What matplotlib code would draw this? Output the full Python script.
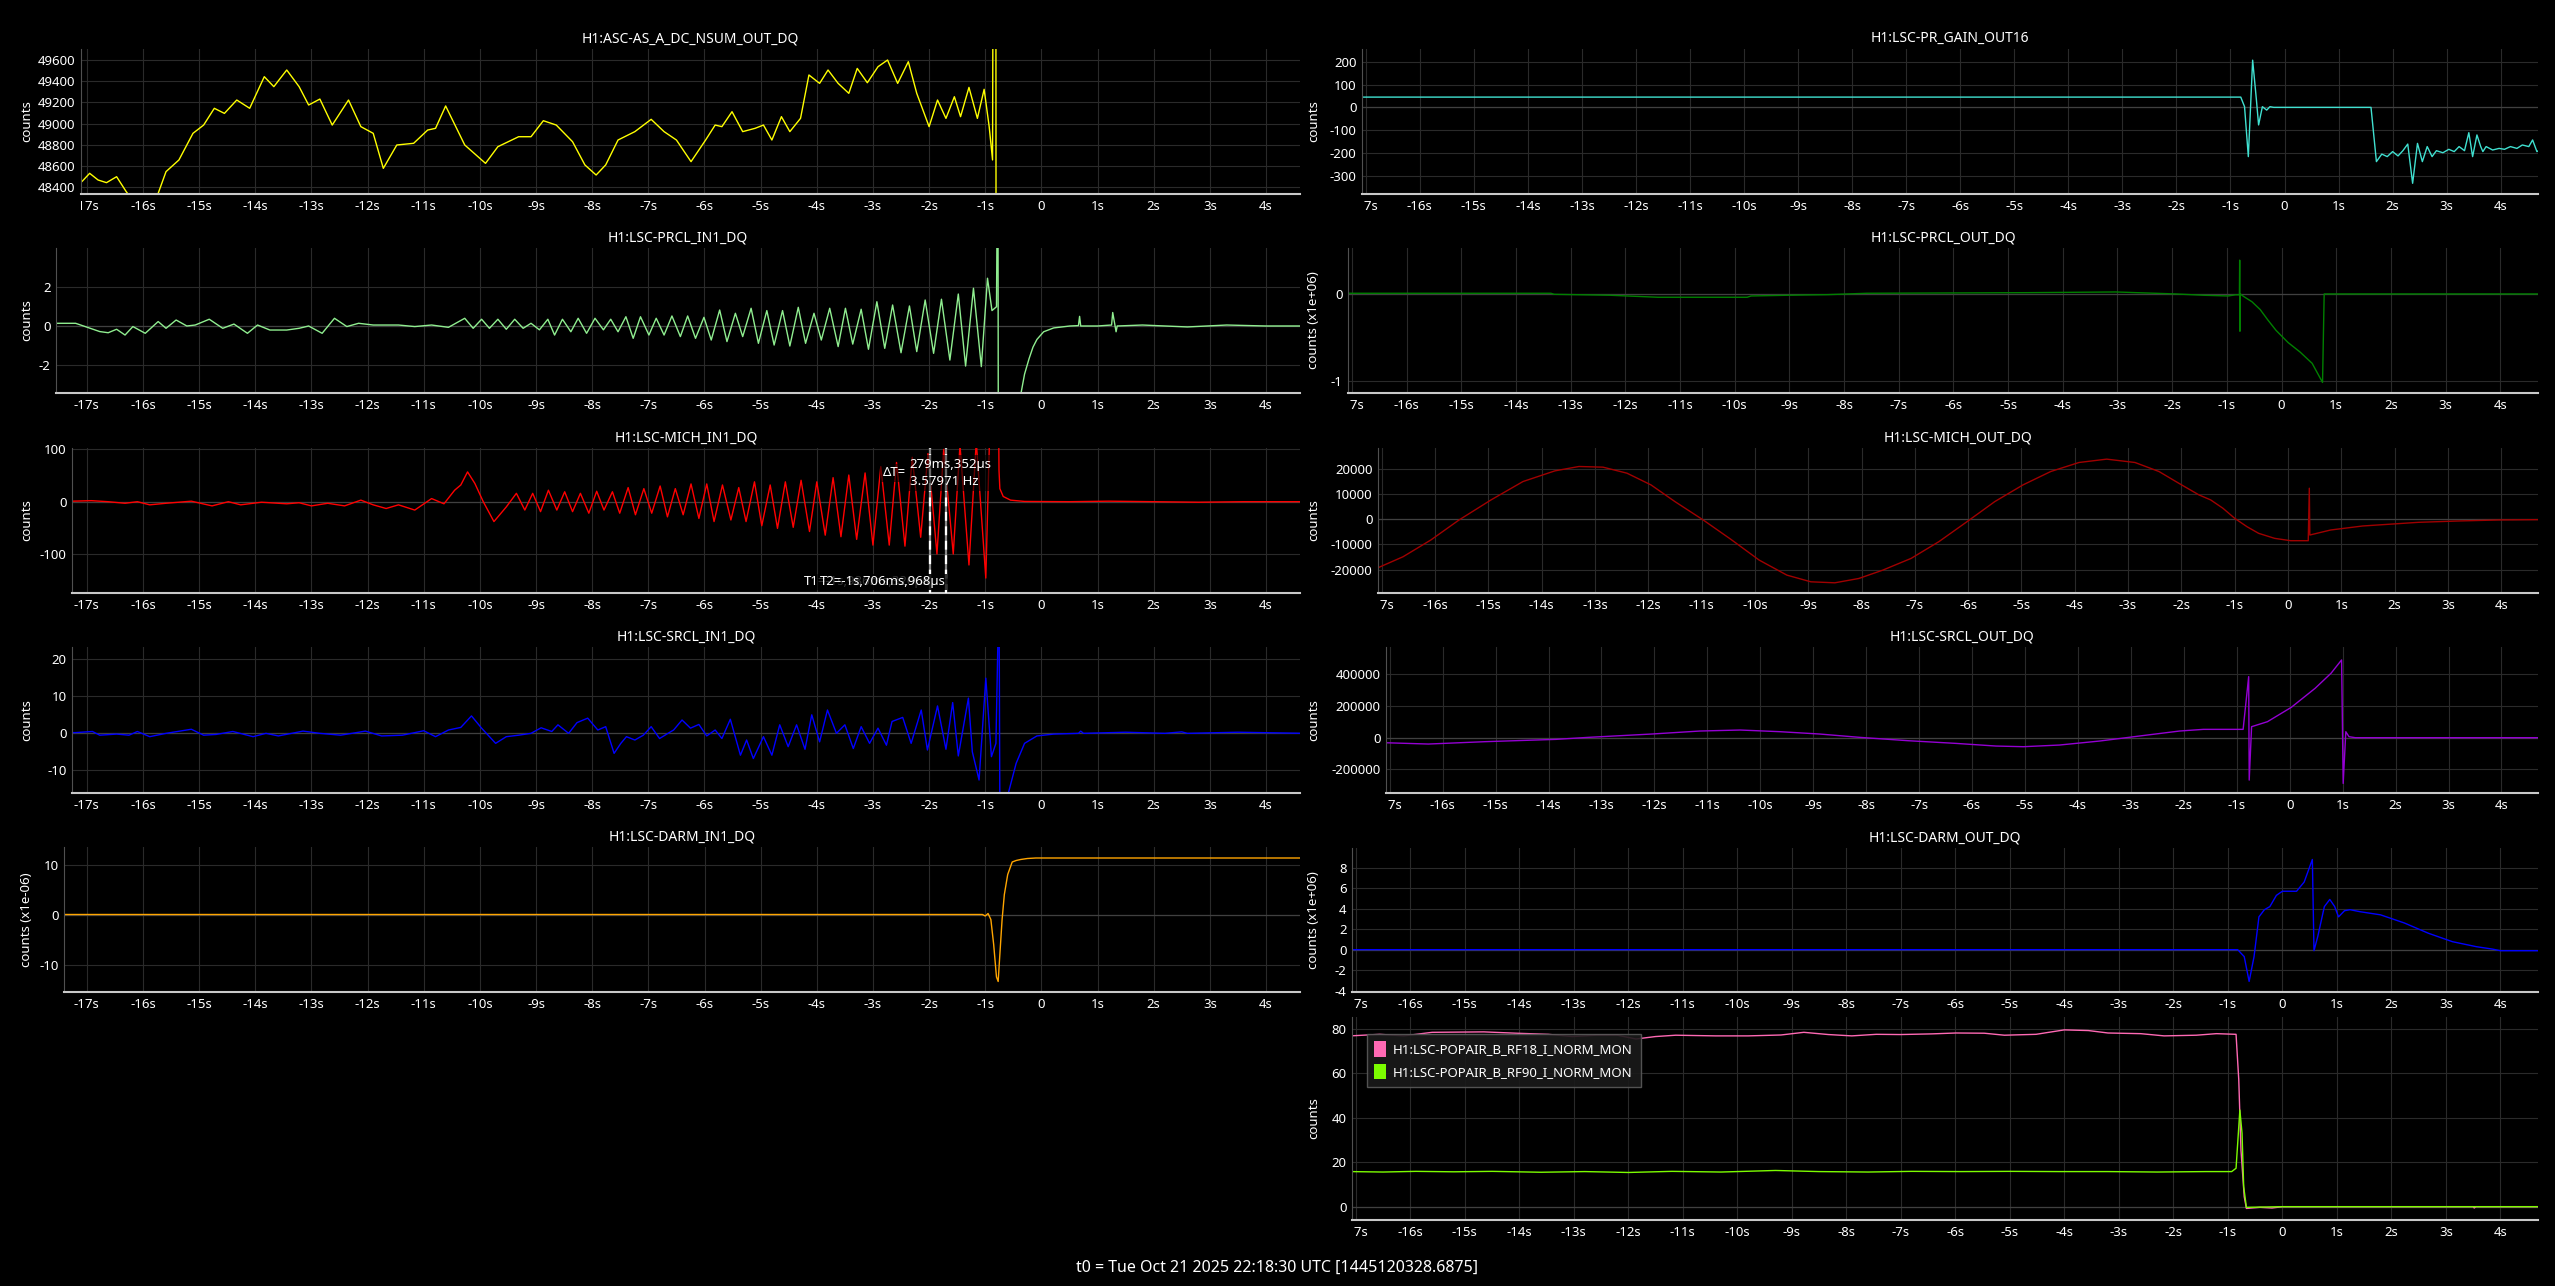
import numpy as np
import matplotlib
matplotlib.use('Agg')
from matplotlib import pyplot as plt
from matplotlib.patches import Patch
from matplotlib.transforms import Bbox, TransformedBbox, blended_transform_factory

plt.rcParams['font.family'] = ['Noto Sans', 'DejaVu Sans']

FIG_W, FIG_H = 2555, 1286
T0_TEXT = 't0 = Tue Oct 21 2025 22:18:30 UTC [1445120328.6875]'

# ---------------- data, seconds relative to t0 ----------------
# H1:ASC-AS_A_DC_NSUM_OUT_DQ
asc_t = [-17.6, -17.09, -16.95, -16.8, -16.65, -16.47, -16.3, -16.0, -15.73, -15.59,
         -15.36, -15.11, -14.92, -14.73, -14.55, -14.33, -14.1, -13.84, -13.67, -13.44,
         -13.22, -13.05, -12.85, -12.63, -12.34, -12.12, -11.9, -11.72, -11.48, -11.18,
         -10.93, -10.79, -10.61, -10.27, -9.9, -9.68, -9.31, -9.09, -8.87, -8.64,
         -8.35, -8.13, -7.93, -7.76, -7.54, -7.24, -6.95, -6.72, -6.5, -6.24,
         -5.98, -5.81, -5.69, -5.51, -5.32, -5.1, -4.95, -4.8, -4.63, -4.48,
         -4.29, -4.14, -3.95, -3.8, -3.62, -3.43, -3.28, -3.1, -2.91, -2.74,
         -2.56, -2.37, -2.22, -2.0, -1.85, -1.7, -1.55, -1.44, -1.29, -1.14,
         -1.02, -0.93, -0.87, -0.82, -0.76, 4.7]
asc_y = [48453, 48453, 48532, 48469, 48444, 48500, 48360, 48150, 48343, 48548,
         48658, 48909, 48987, 49145, 49097, 49223, 49145, 49443, 49349, 49506,
         49349, 49176, 49232, 48987, 49223, 48972, 48909, 48579, 48799, 48815,
         48940, 48956, 49167, 48799, 48626, 48783, 48877, 48877, 49028, 48987,
         48830, 48611, 48516, 48611, 48846, 48925, 49041, 48925, 48846, 48642,
         48846, 48987, 48972, 49113, 48925, 48956, 48987, 48846, 49066, 48925,
         49050, 49459, 49380, 49506, 49380, 49286, 49521, 49386, 49537, 49600,
         49380, 49584, 49286, 48972, 49223, 49050, 49254, 49066, 49342, 49050,
         49324, 48972, 48658, 60000, 0, 0]

# H1:LSC-PRCL_IN1_DQ
prcl_in_pre_t = [-17.6, -17.54, -17.2, -17.06, -16.77, -16.62, -16.47, -16.32, -16.18, -15.96,
                 -15.73, -15.59, -15.41, -15.22, -15.07, -14.82, -14.58, -14.38, -14.14, -13.96,
                 -13.74, -13.44, -13.22, -13.05, -12.81, -12.59, -12.37, -12.16, -11.9, -11.45,
                 -11.16, -10.86, -10.56]
prcl_in_pre_y = [0.1, 0.14, 0.14, 0, -0.29, -0.35, -0.17, -0.47, -0.03, -0.38,
                 0.23, -0.12, 0.31, 0, 0.05, 0.35, -0.12, 0.1, -0.38, 0.05,
                 -0.21, -0.21, -0.12, 0, -0.38, 0.4, -0.03, 0.14, 0.05, 0.05,
                 -0.03, 0.05, -0.07]
prcl_in_peak_t = [-10.27, -9.97, -9.68, -9.38, -9.09, -8.79, -8.53, -8.25, -7.95, -7.67,
                  -7.40, -7.14, -6.86, -6.58, -6.30, -6.01, -5.73, -5.45, -5.17, -4.89,
                  -4.61, -4.33, -4.05, -3.77, -3.49, -3.21, -2.93, -2.65, -2.35, -2.07,
                  -1.78, -1.48, -1.21, -0.96]
prcl_in_peak_y = [0.4, 0.35, 0.35, 0.35, 0.14, 0.35, 0.35, 0.4, 0.4, 0.35,
                  0.48, 0.48, 0.4, 0.52, 0.52, 0.45, 0.83, 0.66, 0.92, 0.8,
                  0.8, 0.97, 0.66, 0.92, 0.92, 0.87, 1.26, 1.09, 1.04, 1.35,
                  1.39, 1.66, 1.96, 2.48]
prcl_in_trough_t = [-10.12, -9.83, -9.53, -9.23, -8.94, -8.67, -8.38, -8.10, -7.80, -7.54,
                    -7.27, -6.99, -6.72, -6.43, -6.16, -5.88, -5.60, -5.32, -5.04, -4.76,
                    -4.48, -4.20, -3.92, -3.62, -3.36, -3.08, -2.79, -2.50, -2.22, -1.92,
                    -1.63, -1.35, -1.07]
prcl_in_trough_y = [-0.12, -0.12, -0.17, -0.12, -0.2, -0.47, -0.3, -0.38, -0.2, -0.3,
                    -0.64, -0.47, -0.47, -0.55, -0.64, -0.73, -0.81, -0.55, -0.9, -0.99,
                    -1.04, -0.9, -0.73, -1.07, -0.94, -1.21, -1.16, -1.39, -1.33, -1.42,
                    -1.77, -2.08, -2.11]
prcl_in_post_t = [-0.88, -0.8, -0.775, -0.765, -0.5, -0.37, -0.3, -0.22, -0.15, -0.08,
                  0.04, 0.22, 0.51, 0.66, 0.68, 0.7, 1.0, 1.25, 1.27, 1.33,
                  1.35, 1.8, 2.6, 3.3, 4.0, 4.7]
prcl_in_post_y = [0.8, 1.0, 12, -12, -6, -3.6, -2.5, -1.7, -1.1, -0.7,
                  -0.3, -0.1, 0.0, 0.02, 0.5, 0.0, 0.0, 0.05, 0.7, -0.3,
                  0.0, 0.05, -0.05, 0.05, 0.0, 0.0]

# H1:LSC-MICH_IN1_DQ
mich_in_pre_t = [-17.6, -17.26, -16.92, -16.62, -16.32, -16.1, -15.88, -15.59, -15.14, -14.77,
                 -14.48, -14.26, -13.89, -13.44, -13.22, -13.0, -12.71, -12.41, -12.12, -11.9,
                 -11.67, -11.45, -11.16, -10.86, -10.64, -10.45, -10.34, -10.22, -10.09, -9.94,
                 -9.75, -9.53]
mich_in_pre_y = [1, 1, 2, 0, -3, 0, -6, -3, 1, -8,
                 0, -6, -1, -4, -2, -8, -3, -8, 3, -6,
                 -13, -6, -16, 6, -4, 22, 32, 57, 35, 0,
                 -38, -10]
mich_in_peak_t = [-9.35, -9.06, -8.78, -8.49, -8.21, -7.92, -7.64, -7.36, -7.08, -6.79,
                  -6.52, -6.24, -5.96, -5.68, -5.39, -5.11, -4.83, -4.56, -4.28, -4.0,
                  -3.71, -3.43, -3.14, -2.86, -2.58, -2.30, -2.02, -1.74, -1.45, -1.16,
                  -0.89]
mich_in_peak_y = [16, 16, 22, 19, 16, 20, 19, 27, 25, 30,
                  25, 34, 34, 32, 27, 38, 32, 38, 41, 38,
                  46, 51, 55, 67, 75, 85, 92, 100, 108, 115,
                  260]
mich_in_trough_t = [-9.2, -8.92, -8.63, -8.35, -8.06, -7.79, -7.51, -7.23, -6.94, -6.66,
                    -6.38, -6.1, -5.83, -5.53, -5.26, -4.98, -4.7, -4.42, -4.13, -3.85,
                    -3.57, -3.29, -3.0, -2.71, -2.43, -2.15, -1.86, -1.57, -1.29, -0.99]
mich_in_trough_y = [-16, -19, -16, -19, -22, -16, -22, -25, -22, -29,
                    -25, -32, -38, -35, -38, -46, -51, -49, -57, -64,
                    -67, -72, -83, -83, -85, -68, -100, -100, -121, -146]
mich_in_post_t = [-0.77, -0.755, -0.74, -0.68, -0.55, -0.3, 0.5, 1.2, 2.0, 2.8, 3.6, 4.7]
mich_in_post_y = [260, 60, 25, 10, 3, 0.5, 0, 1, 0, -1, 0, 0]

# cursors on MICH_IN1
cursor_t1 = -1.986320
cursor_t2 = -1.706968
cursor_t1_text = 'T1=-1s,986ms,320µs'
cursor_t2_text = 'T2=-1s,706ms,968µs'
cursor_dt_text = '279ms,352µs\n3.57971 Hz'

# H1:LSC-SRCL_IN1_DQ
srcl_in_t = [-17.6, -17.2, -16.9, -16.77, -16.47, -16.25, -16.1, -15.88, -15.59, -15.14,
             -14.92, -14.7, -14.4, -14.04, -13.81, -13.59, -13.15, -12.85, -12.48, -12.04,
             -11.75, -11.38, -11.0, -10.79, -10.56, -10.34, -10.15, -9.97, -9.72, -9.53,
             -9.31, -9.09, -8.91, -8.72, -8.61, -8.42, -8.27, -8.08, -7.9, -7.76,
             -7.61, -7.49, -7.39, -7.24, -7.09, -6.95, -6.8, -6.65, -6.55, -6.4,
             -6.25, -6.1, -5.96, -5.81, -5.69, -5.54, -5.36, -5.25, -5.13, -4.95,
             -4.8, -4.66, -4.51, -4.36, -4.21, -4.09, -3.95, -3.81, -3.65, -3.5,
             -3.35, -3.21, -3.06, -2.91, -2.76, -2.66, -2.47, -2.32, -2.14, -2.03,
             -1.85, -1.7, -1.58, -1.48, -1.3, -1.23, -1.11, -0.99, -0.89, -0.81,
             -0.755, -0.735, -0.59, -0.45, -0.3, -0.08, 0.22, 0.66, 0.7, 0.75,
             1.5, 2.2, 2.5, 2.6, 3.5, 4.7]
srcl_in_y = [0.2, 0.2, 0.5, -0.5, -0.2, -0.5, 0.5, -0.9, 0, 1.1,
             -0.5, -0.3, 0.5, -0.9, 0, -0.7, 0.6, 0, -0.5, 0.6,
             -0.7, -0.5, 0.7, -0.9, 0.9, 1.6, 4.7, 1.4, -2.7, -0.9,
             -0.5, 0, 1.5, 0.5, 2.3, 0, 2.9, 4.1, 0.9, 1.8,
             -5.4, -2.7, -0.9, -1.8, -0.5, 1.8, -1.4, 0, 0.9, 3.6,
             1.4, 2.4, -0.7, 0.9, -1.4, 3.8, -5.9, -1.8, -6.8, -0.9,
             -5.9, 2.3, -3.6, 2.3, -4.3, 5.0, -2.3, 6.3, 0, 2.3,
             -4.1, 1.8, -2.7, 1.4, -3.2, 3.2, 4.3, -2.7, 6.3, -4.5,
             7.4, -4.3, 8.3, -6.1, 9.5, -5.0, -12.6, 14.9, -6.3, -2.7,
             40, -40, -16.2, -8.1, -2.7, -0.7, -0.2, 0, 0.6, 0,
             0.3, 0, 0.4, 0, 0.3, 0]

# H1:LSC-DARM_IN1_DQ  (x1e-06)
darm_in_t = [-17.6, -1.05, -1.0, -0.95, -0.9, -0.85, -0.8, -0.77, -0.74, -0.7,
             -0.66, -0.6, -0.52, -0.45, -0.37, -0.25, -0.1, 4.7]
darm_in_y = [0, 0, -0.3, 0.2, -1.0, -6.0, -12.5, -13.4, -8.0, -1.0,
             4.0, 8.0, 10.5, 10.8, 11.0, 11.2, 11.3, 11.3]

# H1:LSC-PR_GAIN_OUT16
pr_gain_t = [-17.1, -0.81, -0.74, -0.67, -0.59, -0.52, -0.48, -0.41, -0.33, -0.27,
             -0.2, 1.6, 1.7, 1.8, 1.9, 2.0, 2.1, 2.19, 2.28, 2.37,
             2.46, 2.55, 2.64, 2.73, 2.81, 2.93, 3.04, 3.14, 3.23, 3.33,
             3.41, 3.48, 3.56, 3.63, 3.67, 3.73, 3.85, 3.97, 4.07, 4.18,
             4.3, 4.4, 4.52, 4.59, 4.67, 4.7]
pr_gain_y = [45, 45, 3, -216, 207, 32, -77, 3, -12, 3,
             0, 0, -238, -205, -216, -194, -213, -190, -161, -333,
             -158, -238, -172, -216, -190, -199, -184, -194, -172, -190,
             -111, -216, -121, -172, -194, -172, -187, -180, -184, -172,
             -180, -165, -172, -143, -194, -190]

# H1:LSC-PRCL_OUT_DQ  (x1e+06)
prcl_out_t = [-17.1, -13.36, -13.3, -12.27, -11.97, -11.4, -9.77, -9.7, -9.04, -8.3,
              -7.58, -4.64, -3.03, -1.93, -1.42, -0.98, -0.84, -0.77, -0.765, -0.76,
              -0.755, -0.69, -0.54, -0.39, -0.25, -0.1, 0.12, 0.34, 0.56, 0.75,
              0.78, 4.7]
prcl_out_y = [0.008, 0.008, -0.004, -0.015, -0.023, -0.038, -0.038, -0.023, -0.015, -0.008,
              0.008, 0.015, 0.023, 0.0, -0.015, -0.023, -0.01, -0.01, 0.39, -0.43,
              0.0, -0.03, -0.09, -0.18, -0.3, -0.42, -0.56, -0.67, -0.8, -1.02,
              0.0, 0.0]

# H1:LSC-MICH_OUT_DQ
mich_out_t = [-17.1, -16.6, -16.08, -15.55, -14.95, -14.35, -13.75, -13.3, -12.85, -12.4,
              -11.95, -11.5, -10.97, -10.45, -9.92, -9.4, -8.95, -8.5, -8.05, -7.6,
              -7.07, -6.55, -6.02, -5.5, -4.97, -4.45, -3.92, -3.4, -2.87, -2.42,
              -2.05, -1.67, -1.45, -1.22, -1.0, -0.77, -0.55, -0.25, 0.05, 0.38,
              0.4, 0.41, 0.8, 1.4, 2.45, 3.2, 3.95, 4.7]
mich_out_y = [-19535, -14884, -8239, -266, 7708, 15017, 19269, 20997, 20731, 18339,
              13688, 7043, -266, -7973, -16213, -22193, -24850, -25249, -23522, -20199,
              -15548, -8904, -930, 7043, 13688, 19003, 22591, 23920, 22591, 19003,
              14352, 9701, 7708, 4385, 399, -2924, -5581, -7575, -8505, -8505,
              12359, -6246, -4252, -2658, -1196, -664, -266, -133]

# H1:LSC-SRCL_OUT_DQ
srcl_out_t = [-17.1, -16.27, -15.21, -13.86, -13.25, -12.05, -11.14, -10.38, -9.63, -8.88,
              -8.12, -7.21, -6.31, -5.55, -5.03, -4.35, -3.59, -2.84, -2.08, -1.63,
              -0.88, -0.775, -0.765, -0.72, -0.42, 0.03, 0.48, 0.78, 0.98, 1.01,
              1.06, 1.12, 1.24, 4.7]
srcl_out_y = [-31579, -40000, -25263, -10526, 2105, 23158, 42105, 48421, 37895, 23158,
              2105, -18947, -35789, -52632, -56842, -46316, -21053, 10526, 42105, 52632,
              52632, 385263, -267368, 69474, 101053, 191579, 311579, 406316, 490526, -288421,
              37895, 6316, 0, 0]

# H1:LSC-DARM_OUT_DQ  (x1e+06)
darm_out_t = [-17.1, -0.82, -0.7, -0.61, -0.52, -0.43, -0.33, -0.23, -0.11, 0.0,
              0.26, 0.4, 0.55, 0.58, 0.65, 0.77, 0.87, 0.96, 1.03, 1.14,
              1.24, 1.43, 1.8, 2.24, 2.68, 3.12, 3.56, 3.85, 4.0, 4.7]
darm_out_y = [0, 0, -0.68, -3.1, -0.68, 3.2, 3.9, 4.2, 5.3, 5.7,
              5.7, 6.6, 8.8, -0.1, 1.3, 4.2, 4.9, 4.2, 3.2, 3.8,
              3.9, 3.7, 3.4, 2.6, 1.6, 0.78, 0.29, 0.06, -0.1, -0.1]

# H1:LSC-POPAIR_B_RF18_I_NORM_MON / RF90
rf18_t = [-17.1, -16.56, -16.12, -15.6, -14.65, -14.06, -13.47, -13.03, -12.59, -12.2,
          -11.86, -11.5, -11.13, -10.4, -9.8, -9.2, -8.78, -8.33, -7.9, -7.45,
          -7.01, -6.43, -5.99, -5.47, -5.1, -4.52, -4.0, -3.56, -3.2, -2.6,
          -2.17, -1.58, -1.21, -0.85, -0.8, -0.76, -0.7, -0.66, -0.41, -0.19,
          0.0, 3.5, 3.52, 3.55, 4.7]
rf18_y = [76.9, 77.6, 76.9, 78.5, 78.7, 78.1, 77.6, 76.6, 77.2, 77.2,
          75.5, 76.6, 77.2, 76.9, 76.9, 77.3, 78.5, 77.5, 76.9, 77.6,
          77.5, 77.8, 78.2, 78.1, 77.2, 77.6, 79.6, 79.3, 78.2, 77.9,
          76.9, 77.2, 77.9, 77.6, 57.1, 25.5, 4.5, -0.8, -0.3, -0.6,
          0.0, 0.0, -0.6, 0.0, 0.0]
rf90_t = [-17.1, -16.5, -15.9, -15.2, -14.5, -13.6, -12.8, -12.0, -11.2, -10.3,
          -9.3, -8.5, -7.6, -6.8, -5.9, -5.0, -4.1, -3.2, -2.3, -1.4,
          -0.93, -0.85, -0.78, -0.74, -0.71, -0.66, 0.0, 4.7]
rf90_y = [15.8, 15.6, 15.9, 15.7, 15.9, 15.5, 15.8, 15.4, 15.9, 15.6,
          16.3, 15.8, 15.6, 15.9, 15.8, 15.9, 15.8, 15.8, 15.6, 15.8,
          15.8, 17.3, 43.5, 33.0, 9.0, -0.3, 0.0, 0.0]
popair_labels = ['H1:LSC-POPAIR_B_RF18_I_NORM_MON', 'H1:LSC-POPAIR_B_RF90_I_NORM_MON']

xticks = list(range(-17, 5))
xtick_labels = ['0' if t == 0 else f'{t}s' for t in xticks]


def merge(*parts):
    t = np.concatenate([np.asarray(p[0], float) for p in parts])
    y = np.concatenate([np.asarray(p[1], float) for p in parts])
    order = np.argsort(t, kind='stable')
    return t[order], y[order]


def left_xlim(left):
    # the left column shares one pixel-per-second scale
    return (-16 + (left - 143) / 56.15, -16 + (1300 - 143) / 56.15)


RIGHT_XLIM = (-17.07, 4.69)

fig = plt.figure(figsize=(FIG_W / 100, FIG_H / 100), dpi=100, facecolor='black')


def add_panel(box, xlim, ylim, yticks, title=None, ylabel='counts', label_x=33):
    left, right, top, bottom = box
    ax = fig.add_axes([left / FIG_W, 1 - bottom / FIG_H,
                       (right - left) / FIG_W, (bottom - top) / FIG_H])
    ax.set_facecolor('black')
    ax.set_xlim(*xlim)
    ax.set_ylim(*ylim)
    ax.set_xticks(xticks, xtick_labels)
    ax.set_yticks(yticks, [str(v) for v in yticks])
    ax.grid(True, color='#2a2a2a', lw=0.8)
    ax.set_axisbelow(True)
    if ylim[0] < 0 < ylim[1]:
        ax.axhline(0, color='#404040', lw=0.9, zorder=1)
    ax.tick_params(colors='white', labelsize=9.5, length=0, pad=4)
    for s in ('top', 'right'):
        ax.spines[s].set_visible(False)
    ax.spines['bottom'].set_color('#c8c8c8')
    ax.spines['bottom'].set_linewidth(1.5)
    ax.spines['left'].set_color('#505050')
    ax.spines['left'].set_linewidth(0.8)
    if title:
        ax.set_title(title, color='white', fontsize=10, pad=5)
    ax.set_ylabel(ylabel, color='white', fontsize=9.5)
    ax.yaxis.set_label_coords(label_x / FIG_W, 0.5,
                              transform=blended_transform_factory(fig.transFigure, ax.transAxes))
    clip = TransformedBbox(Bbox([[0, -1], [1, 2]]), ax.transAxes)
    for tick in ax.xaxis.get_major_ticks():
        tick.label1.set_clip_box(clip)
        tick.label1.set_clip_on(True)
    return ax


LW = 1.0

# ---------------- left column ----------------
ax = add_panel((81, 1300, 49, 194), left_xlim(81), (48337, 49704),
               [48400, 48600, 48800, 49000, 49200, 49400, 49600],
               'H1:ASC-AS_A_DC_NSUM_OUT_DQ')
ax.plot(asc_t, asc_y, color='#ffff00', lw=LW)

ax = add_panel((56, 1300, 248, 393), left_xlim(56), (-3.48, 4.05), [-2, 0, 2],
               'H1:LSC-PRCL_IN1_DQ')
t, y = merge((prcl_in_pre_t, prcl_in_pre_y), (prcl_in_peak_t, prcl_in_peak_y),
             (prcl_in_trough_t, prcl_in_trough_y), (prcl_in_post_t, prcl_in_post_y))
ax.plot(t, y, color='#90ee90', lw=LW)

ax = add_panel((72, 1300, 448, 593), left_xlim(72), (-174.6, 102.7), [-100, 0, 100],
               'H1:LSC-MICH_IN1_DQ')
t, y = merge((mich_in_pre_t, mich_in_pre_y), (mich_in_peak_t, mich_in_peak_y),
             (mich_in_trough_t, mich_in_trough_y), (mich_in_post_t, mich_in_post_y))
ax.plot(t, y, color='#ff0000', lw=LW)
for tc in (cursor_t1, cursor_t2):
    ax.axvline(tc, color='#8a8a8a', lw=1.6, zorder=4)
    ax.axvline(tc, color='white', lw=1.6, dashes=(4, 2.5), zorder=5)
mix = blended_transform_factory(ax.transData, ax.transAxes)
ax.text(cursor_t1, 0.076, cursor_t1_text, transform=mix, ha='right', va='center',
        color='white', fontsize=9.5, zorder=6,
        bbox=dict(fc='black', ec='none', alpha=0.5, pad=1))
ax.text(cursor_t2, 0.076, cursor_t2_text, transform=mix, ha='right', va='center',
        color='white', fontsize=9.5, zorder=7,
        bbox=dict(fc='black', ec='none', alpha=0.8, pad=1))
ax.annotate('ΔT=', xy=(cursor_t1, 0.828), xycoords=mix, xytext=(-24, 0),
            textcoords='offset pixels', ha='right', va='center', color='white',
            fontsize=9.5, zorder=7, bbox=dict(fc='black', ec='none', alpha=0.6, pad=2))
ax.annotate(cursor_dt_text, xy=(cursor_t1, 0.828), xycoords=mix, xytext=(-20, 0),
            textcoords='offset pixels', ha='left', va='center', color='white',
            fontsize=9.5, linespacing=1.45, zorder=7,
            bbox=dict(fc='black', ec='none', alpha=0.6, pad=2))

ax = add_panel((72, 1300, 647, 793), left_xlim(72), (-16.1, 23.3), [-10, 0, 10, 20],
               'H1:LSC-SRCL_IN1_DQ')
ax.plot(srcl_in_t, srcl_in_y, color='#0000ff', lw=LW)

ax = add_panel((64, 1300, 847, 992), left_xlim(64), (-15.5, 13.5), [-10, 0, 10],
               'H1:LSC-DARM_IN1_DQ', ylabel='counts (x1e-06)')
ax.plot(darm_in_t, darm_in_y, color='#ffa500', lw=LW)

# ---------------- right column ----------------
RX = 1320
ax = add_panel((1362, 2538, 49, 194), RIGHT_XLIM, (-380, 256),
               [-300, -200, -100, 0, 100, 200], 'H1:LSC-PR_GAIN_OUT16', label_x=RX)
ax.plot(pr_gain_t, pr_gain_y, color='#40e0d0', lw=LW)

ax = add_panel((1348, 2538, 248, 393), RIGHT_XLIM, (-1.142, 0.53), [-1, 0],
               'H1:LSC-PRCL_OUT_DQ', ylabel='counts (x1e+06)', label_x=RX)
ax.plot(prcl_out_t, prcl_out_y, color='#008000', lw=LW)

ax = add_panel((1378, 2538, 448, 593), RIGHT_XLIM, (-29300, 28350),
               [-20000, -10000, 0, 10000, 20000], 'H1:LSC-MICH_OUT_DQ', label_x=RX)
ax.plot(mich_out_t, mich_out_y, color='#a00000', lw=LW)

ax = add_panel((1386, 2538, 647, 793), RIGHT_XLIM, (-348900, 572200),
               [-200000, 0, 200000, 400000], 'H1:LSC-SRCL_OUT_DQ', label_x=RX)
ax.plot(srcl_out_t, srcl_out_y, color='#9400d3', lw=LW)

ax = add_panel((1352, 2538, 848, 992), RIGHT_XLIM, (-4.13, 9.92),
               [-4, -2, 0, 2, 4, 6, 8], 'H1:LSC-DARM_OUT_DQ',
               ylabel='counts (x1e+06)', label_x=RX)
ax.plot(darm_out_t, darm_out_y, color='#0000ff', lw=LW)

ax = add_panel((1352, 2538, 1017, 1220), RIGHT_XLIM, (-6.0, 85.4),
               [0, 20, 40, 60, 80], None, label_x=RX)
ax.plot(rf18_t, rf18_y, color='#ff69b4', lw=LW)
ax.plot(rf90_t, rf90_y, color='#7cfc00', lw=LW)
handles = [Patch(facecolor='#ff69b4', edgecolor='none', label=popair_labels[0]),
           Patch(facecolor='#7cfc00', edgecolor='none', label=popair_labels[1])]
leg = ax.legend(handles=handles, loc='upper left', bbox_to_anchor=(0.0067, 0.951),
                fontsize=9.5, labelcolor='white', facecolor='#1a1a1a',
                edgecolor='#5a5a5a', framealpha=0.9, fancybox=False,
                handlelength=0.9, handleheight=1.4, handletextpad=0.5,
                labelspacing=0.55, borderpad=0.6)

fig.text(0.5, 1 - 1268 / FIG_H, T0_TEXT, ha='center', va='center',
         color='white', fontsize=11.5)

fig.savefig('out.png', dpi=100, facecolor='black')
